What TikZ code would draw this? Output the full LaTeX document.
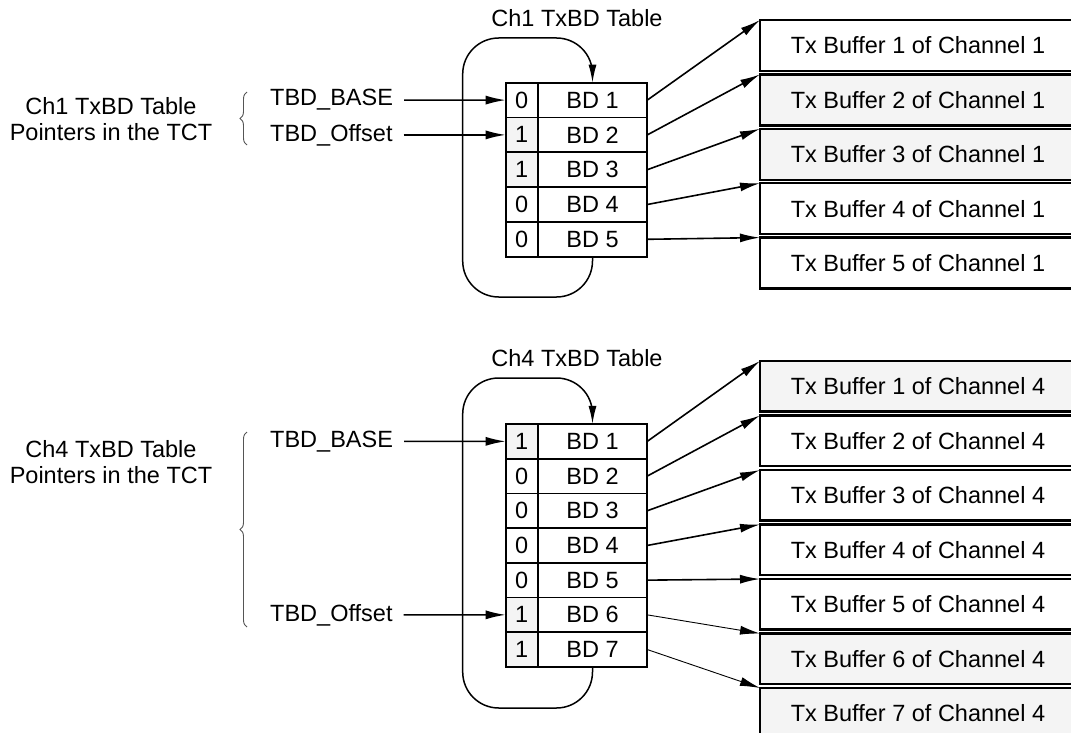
\documentclass[tikz,border=0pt]{standalone}
\usepackage{fontspec}
\setmainfont{Liberation Sans}
\usetikzlibrary{arrows.meta,decorations.pathreplacing}
\definecolor{cellgray}{HTML}{F4F4F4}
\definecolor{bracegray}{HTML}{555555}
\begin{document}
\begin{tikzpicture}[x=1pt,y=-1pt,
  font=\fontsize{23.5}{26}\selectfont,
  cell/.style={draw, line width=1.7pt, minimum height=34.75pt, inner sep=0pt, outer sep=0pt},
  bitcell/.style={cell, minimum width=32pt},
  bdcell/.style={cell, minimum width=109.6pt},
  set/.style={fill=cellgray},
  bufbox/.style={draw, line width=2.4pt, minimum width=316pt, minimum height=51pt, anchor=north west, inner sep=0pt, outer sep=0pt},
  ptr/.style={-{Latex[length=20pt,width=9pt]}, line width=1.6pt},
  thinptr/.style={-{Latex[length=20pt,width=9pt]}, line width=0.9pt},
  loopline/.style={-{Latex[length=18pt,width=8pt]}, line width=1.5pt, rounded corners=36pt},
  pname/.style={anchor=west, inner xsep=5pt},
  bracestyle/.style={decorate, decoration={brace, amplitude=7pt}, draw=bracegray, line width=0.9pt},
  grouplabel/.style={align=center}
]
\clip (0,0) rectangle (1071,733);

% ---------------- Channel 1 ----------------
\node (t1) at (577,18) {Ch1 TxBD Table};
\node[grouplabel] (g1) at (111,119.5) {Ch1 TxBD Table\\Pointers in the TCT};
\draw[bracestyle] (247,145) -- (247,92);

\foreach \i/\b/\s in {1/0/,2/1/set,3/1/set,4/0/,5/0/} {
  \node[bitcell,\s] (ab\i) at (521.7,{82.7+34.8*(\i-0.5)}) {\b};
  \node[bdcell] (ad\i) at (592.5,{82.7+34.8*(\i-0.5)}) {BD \i};
}
\foreach \i/\s in {1/,2/set,3/set,4/,5/} {
  \node[bufbox,\s] (AB\i) at (760,{20+54.4*(\i-1)}) {Tx Buffer \i\ of Channel 1};
}
\node[pname] (abase) at (265,100.1) {TBD\_BASE};
\node[pname] (aoff) at (265,134.9) {TBD\_Offset};
\draw[ptr, shorten <=6pt] (abase.east) -- (ab1.west);
\draw[ptr, shorten <=6pt] (aoff.east) -- (ab2.west);
\foreach \i in {1,...,5} { \draw[ptr] (ad\i.east) -- (AB\i.north west); }
\draw[loopline] (ad5.south) -- (592.5,297) -- (462.7,297) -- (462.7,38) -- (592.5,38) -- (ad1.north);

% ---------------- Channel 4 ----------------
\node (t4) at (577,358) {Ch4 TxBD Table};
\node[grouplabel] (g4) at (111,462.5) {Ch4 TxBD Table\\Pointers in the TCT};
\draw[bracestyle] (247,627) -- (247,432);

\foreach \i/\b/\s in {1/1/set,2/0/,3/0/,4/0/,5/0/,6/1/set,7/1/set} {
  \node[bitcell,\s] (bb\i) at (521.7,{424+34.7*(\i-0.5)}) {\b};
  \node[bdcell] (bd\i) at (592.5,{424+34.7*(\i-0.5)}) {BD \i};
}
\foreach \i/\s in {1/set,2/,3/,4/,5/,6/set,7/set} {
  \node[bufbox,\s,minimum height=50.5pt] (BB\i) at (760,{361+54.5*(\i-1)}) {Tx Buffer \i\ of Channel 4};
}
\node[pname] (bbase) at (265,441.35) {TBD\_BASE};
\node[pname] (boff) at (265,614.85) {TBD\_Offset};
\draw[ptr, shorten <=6pt] (bbase.east) -- (bb1.west);
\draw[ptr, shorten <=6pt] (boff.east) -- (bb6.west);
\foreach \i in {1,...,5} { \draw[ptr] (bd\i.east) -- (BB\i.north west); }
\foreach \i in {6,7} { \draw[thinptr] (bd\i.east) -- (BB\i.north west); }
\draw[loopline] (bd7.south) -- (592.5,708) -- (462.7,708) -- (462.7,378) -- (592.5,378) -- (bd1.north);
\end{tikzpicture}
\end{document}
